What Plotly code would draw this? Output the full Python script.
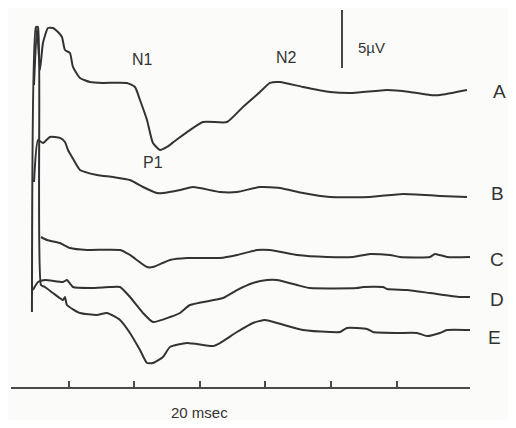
import plotly.graph_objects as go

# time (ms) and displayed amplitude (µV, stacked display)
A_t = [4.66, 5.11, 5.57, 6.03, 6.79, 7.56, 8.32, 8.93, 9.39, 10.15, 10.61, 11.68, 13.21, 15.19, 18.85, 20.08,
       20.84, 21.91, 22.82, 23.89, 24.96, 26.18, 30.46, 34.12, 36.56, 39.16, 40.69, 42.21, 45.73, 49.85,
       53.36, 58.55, 62.06, 65.11, 66.64, 70.76]
A_v = [26.03, 30.95, 27.33, 29.66, 30.95, 30.95, 30.60, 30.17, 29.05, 28.79, 27.59, 26.64, 26.29, 26.21, 26.21,
       25.86, 24.74, 23.02, 21.03, 20.43, 20.69, 21.21, 22.84, 22.84, 24.14, 25.43, 26.21, 26.29, 25.86, 25.43,
       25.34, 25.60, 25.43, 25.17, 25.17, 25.60]

B_t = [4.66, 5.27, 6.03, 7.10, 8.63, 9.39, 9.85, 10.46, 11.68, 14.27, 16.72, 19.31, 21.30, 23.44, 24.35, 26.95,
       28.93, 33.05, 35.65, 39.16, 42.21, 45.73, 49.85, 55.95, 60.99, 66.64, 70.76]
B_v = [17.67, 21.29, 21.03, 21.55, 21.47, 21.12, 20.43, 19.83, 18.71, 18.28, 18.10, 17.84, 17.24, 16.72, 16.72,
       16.98, 17.24, 16.81, 16.81, 17.24, 17.16, 16.72, 16.38, 16.38, 16.64, 16.47, 16.38]

C_t = [5.73, 6.64, 8.63, 10.15, 12.75, 17.79, 19.31, 21.91, 22.82, 25.42, 28.02, 33.05, 35.65, 38.70, 40.69,
       44.81, 49.39, 53.36, 55.95, 59.01, 60.53, 65.11, 65.88, 67.71, 71.22]
C_v = [12.93, 12.67, 12.41, 11.98, 11.81, 11.81, 11.38, 10.34, 10.34, 10.95, 11.12, 11.12, 11.38, 11.81, 11.81,
       11.38, 11.21, 11.21, 11.47, 11.38, 11.21, 11.21, 11.47, 11.21, 11.21]

D_t = [4.50, 5.27, 6.34, 9.08, 9.69, 10.61, 13.21, 16.26, 17.79, 19.31, 21.30, 22.82, 25.42, 26.95, 28.47,
       33.51, 35.65, 38.09, 40.23, 41.76, 44.81, 46.79, 53.97, 54.89, 57.94, 58.55, 61.60, 65.11, 69.69, 71.22]
D_v = [8.36, 9.05, 9.22, 9.05, 9.22, 8.62, 8.53, 8.62, 8.62, 7.76, 6.38, 5.60, 6.03, 6.38, 7.07, 7.67, 8.36,
       8.97, 9.22, 9.22, 8.79, 8.53, 8.53, 8.62, 8.62, 8.45, 8.36, 8.10, 7.76, 7.76]

E_t = [4.35, 4.96, 5.27, 5.73, 6.34, 7.56, 9.08, 9.39, 9.69, 11.68, 14.27, 15.80, 17.79, 19.31, 20.84, 21.91,
       22.82, 24.35, 25.42, 28.02, 31.98, 33.05, 35.65, 38.09, 39.92, 41.76, 45.73, 49.85, 51.37, 52.44,
       55.50, 56.41, 60.08, 63.13, 64.66, 66.64, 67.71, 71.22]
E_v = [6.47, 31.03, 31.03, 8.79, 8.62, 8.10, 7.50, 7.76, 7.07, 6.38, 6.21, 6.38, 5.78, 4.66, 3.19, 2.07, 2.07,
       2.59, 3.45, 3.79, 3.53, 3.79, 4.74, 5.52, 5.78, 5.52, 4.91, 4.74, 4.74, 5.09, 5.00, 4.74, 4.66, 4.66,
       4.40, 4.66, 4.91, 4.91]

trace_names = ["A", "B", "C", "D", "E"]
label_t = [75.75, 75.45, 75.3, 75.3, 74.9]
label_v = [25.43, 16.72, 10.95, 7.50, 4.31]

peak_names = ["N1", "P1", "N2"]
peak_t = [21.30, 22.82, 43.28]
peak_v = [28.19, 19.31, 28.36]

tick_ms = [10, 20, 30, 40, 50, 60]
x_range = [1.15, 71.22]
y_range = [0, 32.67]

scale_t = 51.68
scale_base = 27.5
scale_uv = 5

series = [(A_t, A_v), (B_t, B_v), (C_t, C_v), (D_t, D_v), (E_t, E_v)]

ink = "#333333"
font_family = "Liberation Sans, Arial, sans-serif"


def to_paper_x(t):
    return (t - x_range[0]) / (x_range[1] - x_range[0])


def to_paper_y(v):
    return (v - y_range[0]) / (y_range[1] - y_range[0])


fig = go.Figure()
for name, (t, v) in zip(trace_names, series):
    fig.add_trace(go.Scatter(x=t, y=v, mode="lines", name=name,
                             line=dict(color=ink, width=2.0, shape="spline", smoothing=0.5),
                             showlegend=False, hoverinfo="skip"))

# 5 µV calibration bar
fig.add_shape(type="line", x0=scale_t, x1=scale_t, y0=scale_base, y1=scale_base + scale_uv,
              xref="x", yref="y", line=dict(color=ink, width=1.8))
fig.add_annotation(x=to_paper_x(scale_t + 2.2), y=to_paper_y(scale_base + scale_uv * 0.36),
                   xref="paper", yref="paper",
                   text="5µV", showarrow=False, xanchor="left", yanchor="middle",
                   font=dict(family=font_family, size=15, color=ink))

for n, t, v in zip(peak_names, peak_t, peak_v):
    fig.add_annotation(x=to_paper_x(t), y=to_paper_y(v), xref="paper", yref="paper", text=n,
                       showarrow=False, xanchor="center", yanchor="middle",
                       font=dict(family=font_family, size=16, color=ink))

for n, t, v in zip(trace_names, label_t, label_v):
    fig.add_annotation(x=to_paper_x(t), y=to_paper_y(v), xref="paper", yref="paper", text=n,
                       showarrow=False, xanchor="center", yanchor="middle",
                       font=dict(family=font_family, size=19, color=ink))

fig.add_annotation(x=to_paper_x(30), y=-0.0686, xref="paper", yref="paper", text="20 msec",
                   showarrow=False, xanchor="center", yanchor="middle",
                   font=dict(family=font_family, size=15, color=ink))

fig.update_layout(
    width=500, height=412,
    margin=dict(l=3, r=38, t=0, b=33),
    paper_bgcolor="#fbfbf9", plot_bgcolor="#fbfbf9",
    xaxis=dict(range=x_range, showgrid=False, zeroline=False, showline=True,
               linecolor="#4a4a4a", linewidth=1.5, ticks="inside", ticklen=6, tickwidth=1.5,
               tickcolor="#4a4a4a", tickvals=tick_ms, showticklabels=False),
    yaxis=dict(range=y_range, visible=False, showgrid=False, zeroline=False),
)

fig.write_html("out.html")
